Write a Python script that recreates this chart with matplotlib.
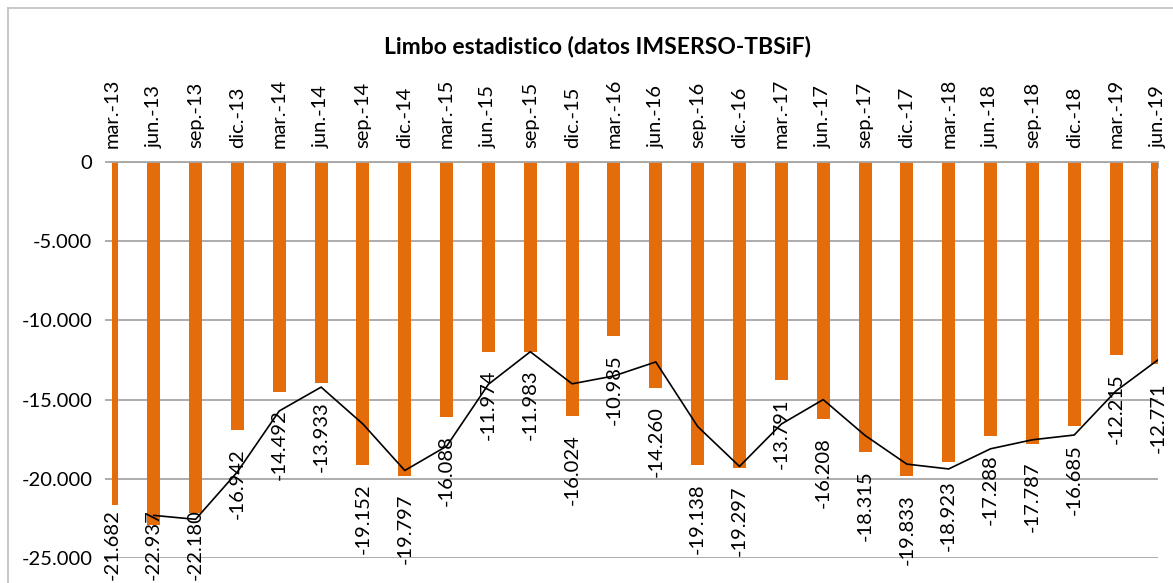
import matplotlib
matplotlib.use("Agg")
import matplotlib.pyplot as plt
from matplotlib.lines import Line2D

plt.rcParams['font.family'] = ['Lato', 'DejaVu Sans']

# Data
periods = ["mar.-13", "jun.-13", "sep.-13", "dic.-13",
           "mar.-14", "jun.-14", "sep.-14", "dic.-14",
           "mar.-15", "jun.-15", "sep.-15", "dic.-15",
           "mar.-16", "jun.-16", "sep.-16", "dic.-16",
           "mar.-17", "jun.-17", "sep.-17", "dic.-17",
           "mar.-18", "jun.-18", "sep.-18", "dic.-18",
           "mar.-19", "jun.-19"]
limbo = [-21682, -22937, -22180, -16942, -14492, -13933, -19152, -19797,
         -16088, -11974, -11983, -16024, -10985, -14260, -19138, -19297,
         -13791, -16208, -18315, -19833, -18923, -17288, -17787, -16685,
         -12215, -12771]
# 2-period moving average trendline (starts at jun.-13)
trend = [-22309.5, -22558.5, -19561, -15717, -14212.5, -16542.5, -19474.5,
         -17942.5, -14031, -11978.5, -14003.5, -13504.5, -12622.5, -16699,
         -19217.5, -16544, -14999.5, -17261.5, -19074, -19378, -18105.5,
         -17537.5, -17236, -14450, -12493]

W, H = 1173, 583
FS = 14.5
fig = plt.figure(figsize=(W / 100, H / 100), dpi=100)
ax = fig.add_axes([111.9 / W, 25 / H, 1046 / W, 396 / H])

x = list(range(len(periods)))
ax.bar(x, limbo, width=0.31, color='#E46C0A', zorder=2)
ax.plot(x[1:], trend, color='black', lw=1.2, zorder=3)

ax.set_xlim(0, len(periods) - 1)
ax.set_ylim(-25000, 0)
ax.set_yticks(range(-25000, 1, 5000))
ax.set_yticklabels([f"{v:,}".replace(",", ".") for v in range(-25000, 1, 5000)],
                   fontsize=FS)
ax.yaxis.grid(True, color='#A6A6A6', lw=1.3, zorder=1)
ax.set_axisbelow(True)

ax.xaxis.tick_top()
ax.set_xticks(x)
ax.set_xticklabels(periods, rotation=90, fontsize=FS)
ax.tick_params(axis='x', direction='in', length=4, color='#A6A6A6', pad=10)
ax.tick_params(axis='y', direction='out', length=5, color='#A6A6A6', width=1.3, pad=9)

for s in ['left', 'right', 'bottom']:
    ax.spines[s].set_visible(False)
ax.spines['top'].set_color('#A6A6A6')
ax.spines['top'].set_linewidth(1.3)

# value labels below each bar
anns = []
for i, v in enumerate(limbo):
    a = ax.annotate(f"{v:,}".replace(",", "."), xy=(i, v), xytext=(0, -13),
                    textcoords='offset points', rotation=90, ha='center', va='top',
                    fontsize=FS, annotation_clip=False, zorder=4)
    anns.append(a)

fig.canvas.draw()
r = fig.canvas.get_renderer()
for a in anns:
    bb = a.get_window_extent(r)
    if bb.y0 < 3:
        shift = (3 - bb.y0) * 72 / fig.dpi
        a.xyann = (0, -13 + shift)

fig.text(597 / W, 1 - 53 / H, "Limbo estadistico (datos IMSERSO-TBSiF)",
         ha='center', va='baseline', fontsize=16.5, fontweight='bold')

# chart border
fig.add_artist(Line2D([8 / W, 8 / W], [0, 1 - 8 / H], color='#BFBFBF', lw=1.2))
fig.add_artist(Line2D([8 / W, 1], [1 - 8 / H, 1 - 8 / H], color='#BFBFBF', lw=1.2))

fig.savefig("out.png", dpi=100)
